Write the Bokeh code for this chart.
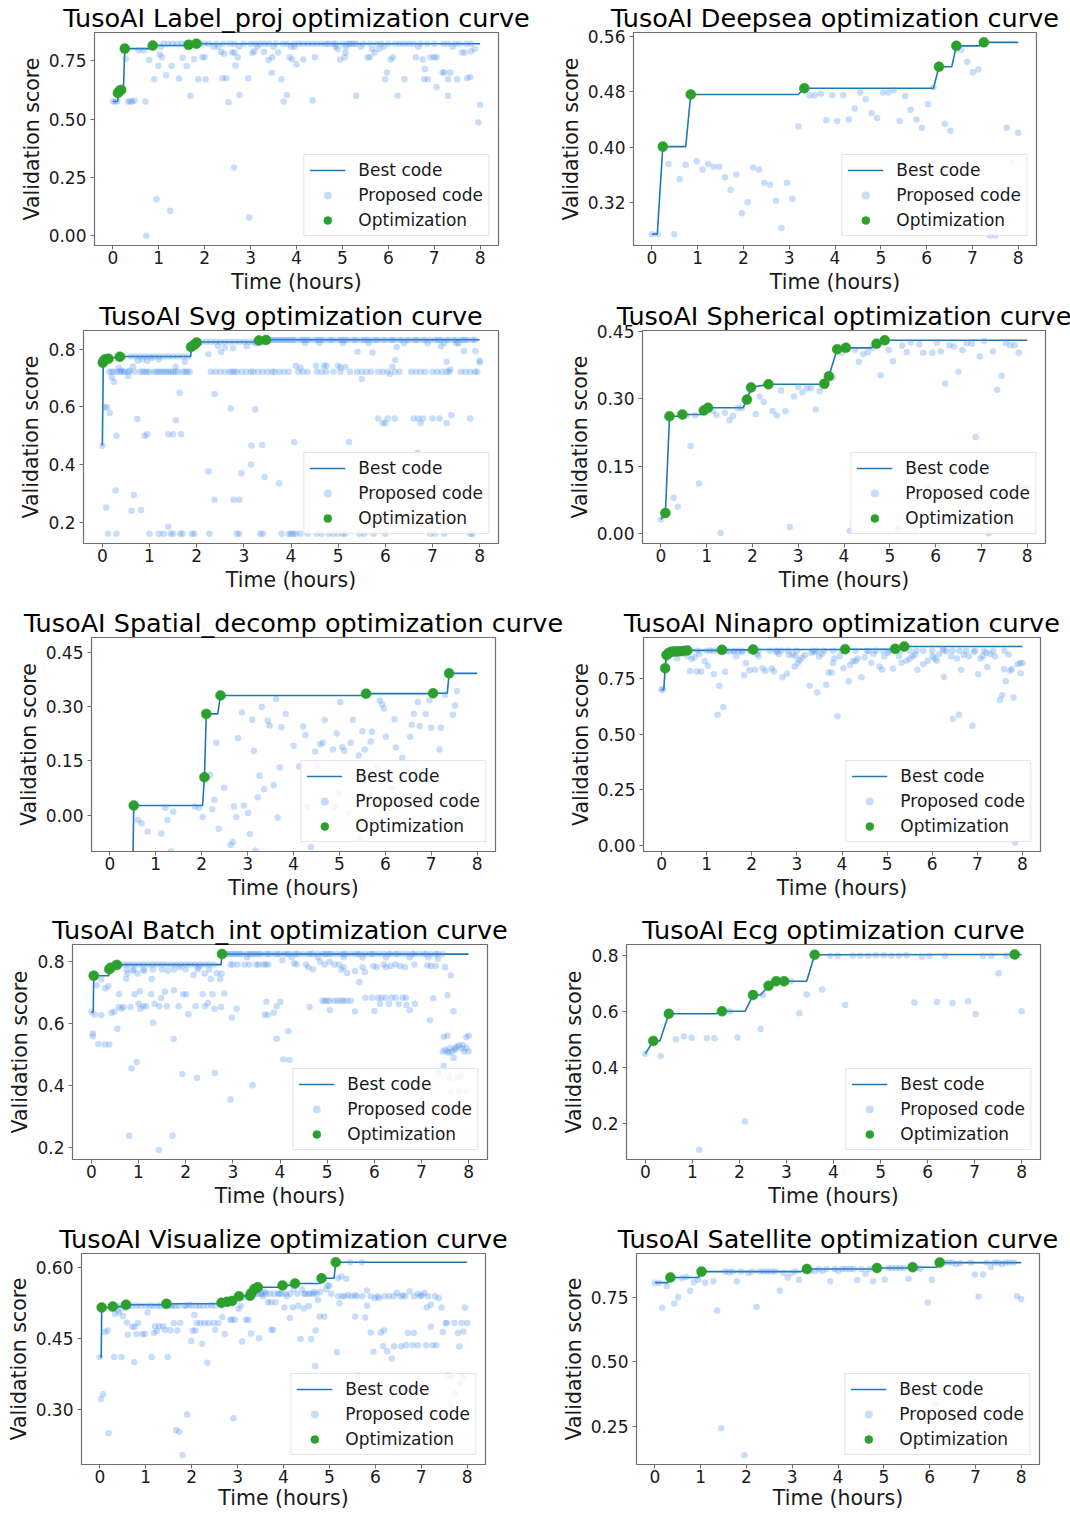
from bokeh.plotting import figure
from bokeh.layouts import row, column
from bokeh.models import Range1d, FixedTicker, PrintfTickFormatter, Legend, LegendItem
from bokeh.embed import file_html
from bokeh.resources import INLINE

FONT = "DejaVu Sans"
LINE_C = "#1f77b4"
PROP_C = "#4a8ef0"
OPT_C = "#2ca02c"
X_TICKS = [0, 1, 2, 3, 4, 5, 6, 7, 8]
X_LIM = (-0.4, 8.4)

# ---------------- Label_proj ----------------
P1_TITLE = "TusoAI Label_proj optimization curve"
P1_BEST_X = [0.0, 0.10, 0.13, 0.18, 0.23, 0.26, 0.80, 0.87, 1.60, 1.65, 1.78, 1.82, 8.0]
P1_BEST_Y = [0.575, 0.575, 0.613, 0.625, 0.625, 0.802, 0.802, 0.815, 0.815, 0.818, 0.818, 0.823, 0.823]
P1_OPT = [(0.11, 0.612), (0.14, 0.620), (0.18, 0.625), (0.26, 0.802), (0.87, 0.815), (1.65, 0.818), (1.82, 0.823)]
P1_PROP = [(0.00, 0.575), (0.05, 0.575), (0.10, 0.575), (0.33, 0.575), (0.38, 0.575), (0.42, 0.575), (0.47, 0.580), (0.71, 0.575),
           (0.28, 0.758), (0.56, 0.795), (0.67, 0.795), (0.73, 0.000), (0.79, 0.753), (0.82, 0.810), (0.90, 0.671), (0.95, 0.156),
           (0.99, 0.727), (1.02, 0.777), (1.05, 0.810), (1.07, 0.765), (1.16, 0.688), (1.25, 0.107), (1.28, 0.727), (1.44, 0.674),
           (1.52, 0.763), (1.61, 0.727), (1.69, 0.600), (1.77, 0.756), (1.86, 0.671), (1.95, 0.765), (2.00, 0.765), (2.02, 0.671),
           (2.20, 0.810), (2.30, 0.810), (2.36, 0.787), (2.39, 0.675), (2.42, 0.780), (2.47, 0.675), (2.52, 0.572), (2.60, 0.785),
           (2.64, 0.292), (2.65, 0.785), (2.67, 0.730), (2.72, 0.765), (2.75, 0.810), (2.76, 0.603), (2.95, 0.675), (2.97, 0.078),
           (3.04, 0.784), (3.08, 0.790), (3.15, 0.810), (3.29, 0.787), (3.39, 0.753), (3.46, 0.699), (3.47, 0.765), (3.50, 0.810),
           (3.60, 0.785), (3.67, 0.671), (3.72, 0.575), (3.79, 0.603), (3.85, 0.765), (3.88, 0.810), (3.90, 0.755), (3.95, 0.810),
           (4.00, 0.735), (4.15, 0.755), (4.35, 0.580), (4.40, 0.765), (4.85, 0.810), (4.90, 0.800), (4.95, 0.755), (5.05, 0.765),
           (5.08, 0.810), (5.07, 0.785), (5.30, 0.600), (5.40, 0.810), (5.55, 0.765), (5.60, 0.765), (5.65, 0.800), (5.70, 0.785),
           (5.80, 0.800), (5.90, 0.810), (5.93, 0.671), (5.97, 0.700), (6.05, 0.755), (6.10, 0.765), (6.20, 0.600), (6.35, 0.671),
           (6.60, 0.765), (6.65, 0.810), (6.75, 0.755), (6.80, 0.715), (6.78, 0.671), (6.86, 0.671), (6.92, 0.765), (7.00, 0.765),
           (7.05, 0.765), (7.05, 0.637), (7.18, 0.700), (7.22, 0.700), (7.30, 0.600), (7.30, 0.671), (7.35, 0.700), (7.40, 0.810),
           (7.50, 0.671), (7.60, 0.785), (7.66, 0.785), (7.72, 0.675), (7.78, 0.680), (7.80, 0.790), (7.88, 0.800), (7.96, 0.485),
           (8.00, 0.561),
           (1.10, 0.823), (1.20, 0.823), (1.30, 0.823), (1.40, 0.823), (1.50, 0.823), (1.60, 0.823), (1.75, 0.823), (1.90, 0.823),
           (2.00, 0.823), (2.10, 0.823), (2.25, 0.823), (2.40, 0.823), (2.55, 0.823), (2.65, 0.823), (2.85, 0.823), (3.00, 0.823),
           (3.10, 0.823), (3.20, 0.823), (3.30, 0.823), (3.40, 0.823), (3.55, 0.823), (3.70, 0.823), (3.80, 0.823), (3.95, 0.823),
           (4.05, 0.823), (4.15, 0.823), (4.25, 0.823), (4.35, 0.823), (4.45, 0.823), (4.55, 0.823), (4.65, 0.823), (4.70, 0.823),
           (4.80, 0.823), (4.85, 0.823), (5.00, 0.823), (5.10, 0.823), (5.15, 0.823), (5.20, 0.823), (5.25, 0.823), (5.30, 0.823),
           (5.45, 0.823), (5.60, 0.823), (5.75, 0.823), (5.85, 0.823), (6.00, 0.823), (6.15, 0.823), (6.25, 0.823), (6.35, 0.823),
           (6.45, 0.823), (6.55, 0.823), (6.70, 0.823), (6.85, 0.823), (7.00, 0.823), (7.20, 0.823), (7.30, 0.823), (7.45, 0.823),
           (7.55, 0.823), (7.70, 0.823), (7.80, 0.823)]
P1_YLIM = (-0.042, 0.871)
P1_YTICKS = [0.0, 0.25, 0.5, 0.75]

# ---------------- Deepsea ----------------
P2_TITLE = "TusoAI Deepsea optimization curve"
P2_BEST_X = [0.0, 0.12, 0.24, 0.74, 0.85, 3.20, 3.33, 6.15, 6.27, 6.55, 6.65, 7.15, 7.25, 8.0]
P2_BEST_Y = [0.275, 0.275, 0.401, 0.401, 0.476, 0.476, 0.485, 0.485, 0.516, 0.516, 0.546, 0.546, 0.551, 0.551]
P2_OPT = [(0.24, 0.401), (0.85, 0.476), (3.33, 0.485), (6.27, 0.516), (6.65, 0.546), (7.25, 0.551)]
P2_PROP = [(0.00, 0.275), (0.12, 0.275), (0.365, 0.376), (0.49, 0.275), (0.61, 0.354), (0.74, 0.375), (0.98, 0.380), (1.11, 0.368),
           (1.23, 0.376), (1.35, 0.372), (1.47, 0.372), (1.60, 0.357), (1.72, 0.339), (1.845, 0.361), (1.965, 0.305), (2.09, 0.321),
           (2.21, 0.371), (2.34, 0.368), (2.455, 0.349), (2.58, 0.346), (2.71, 0.323), (2.83, 0.284), (2.95, 0.349), (3.07, 0.326),
           (3.20, 0.430), (3.445, 0.475), (3.56, 0.475), (3.69, 0.477), (3.81, 0.439), (3.94, 0.475), (4.05, 0.438), (4.18, 0.475),
           (4.30, 0.440), (4.43, 0.456), (4.55, 0.479), (4.67, 0.469), (4.80, 0.449), (4.92, 0.442), (5.04, 0.479), (5.16, 0.479),
           (5.28, 0.482), (5.41, 0.438), (5.53, 0.474), (5.65, 0.454), (5.78, 0.440), (5.90, 0.428), (6.03, 0.462), (6.15, 0.486),
           (6.40, 0.434), (6.52, 0.424), (6.76, 0.540), (6.89, 0.523), (7.01, 0.508), (7.13, 0.512), (7.38, 0.273), (7.50, 0.273),
           (7.63, 0.338), (7.75, 0.428), (7.87, 0.378), (8.00, 0.421)]
P2_YLIM = (0.2587, 0.5652)
P2_YTICKS = [0.32, 0.40, 0.48, 0.56]

# ---------------- Svg ----------------
P3_TITLE = "TusoAI Svg optimization curve"
P3_BEST_X = [0.0, 0.02, 0.04, 0.07, 0.13, 0.37, 1.87, 1.90, 1.95, 2.00, 2.02, 3.30, 3.32, 3.47, 8.0]
P3_BEST_Y = [0.465, 0.757, 0.762, 0.765, 0.767, 0.775, 0.775, 0.809, 0.815, 0.822, 0.825, 0.825, 0.829, 0.833, 0.833]
P3_OPT = [(0.01, 0.753), (0.03, 0.760), (0.06, 0.765), (0.13, 0.767), (0.37, 0.774), (1.88, 0.808), (1.95, 0.816),
          (2.00, 0.823), (3.32, 0.830), (3.47, 0.832)]
P3_PROP = [(0.12, 0.16), (0.30, 0.16), (1.00, 0.16), (1.20, 0.16), (1.30, 0.16), (1.45, 0.16), (1.50, 0.16), (1.65, 0.16),
           (1.70, 0.16), (1.90, 0.16), (1.95, 0.16), (2.27, 0.16), (2.85, 0.16), (2.90, 0.16), (3.35, 0.16), (3.40, 0.16),
           (3.80, 0.16), (3.95, 0.16), (4.00, 0.16), (4.05, 0.16), (4.10, 0.16), (4.20, 0.16), (4.35, 0.16), (4.55, 0.16),
           (4.65, 0.16), (4.80, 0.16), (4.90, 0.16), (5.00, 0.16), (5.10, 0.16), (5.15, 0.16), (5.45, 0.16), (5.55, 0.16),
           (5.75, 0.16), (6.00, 0.16), (6.95, 0.16), (7.05, 0.16), (7.25, 0.16), (7.80, 0.16), (7.85, 0.16),
           (1.40, 0.184), (0.08, 0.251), (0.28, 0.310), (0.67, 0.294), (0.62, 0.240), (0.82, 0.242), (2.25, 0.376),
           (2.38, 0.278), (2.78, 0.278), (2.90, 0.278), (2.95, 0.370), (3.15, 0.400), (3.44, 0.357), (3.75, 0.335),
           (3.16, 0.466), (3.39, 0.468), (4.07, 0.477), (5.23, 0.478), (6.68, 0.441), (0.00, 0.465), (0.30, 0.500),
           (0.90, 0.500), (0.95, 0.505), (1.40, 0.505), (1.50, 0.505), (1.67, 0.505), (0.05, 0.600), (0.10, 0.598),
           (0.16, 0.579), (0.74, 0.558), (1.56, 0.554), (1.64, 0.648), (2.38, 0.645), (2.72, 0.594), (3.24, 0.591),
           (5.85, 0.560), (5.95, 0.544), (6.00, 0.544), (6.05, 0.560), (6.20, 0.560), (6.60, 0.560), (6.70, 0.560),
           (6.75, 0.544), (6.80, 0.560), (7.00, 0.560), (7.15, 0.560), (7.30, 0.544), (7.40, 0.571), (7.80, 0.560),
           (0.15, 0.722), (0.20, 0.722), (0.25, 0.722), (0.32, 0.722), (0.38, 0.722), (0.45, 0.722), (0.47, 0.722),
           (0.55, 0.722), (0.68, 0.722), (0.80, 0.722), (0.85, 0.722), (0.90, 0.722), (0.95, 0.722), (1.00, 0.722),
           (1.10, 0.722), (1.15, 0.722), (1.20, 0.722), (1.25, 0.722), (1.30, 0.722), (1.35, 0.722), (1.40, 0.722),
           (1.45, 0.722), (1.50, 0.722), (1.55, 0.722), (1.60, 0.722), (1.70, 0.722), (1.75, 0.722), (1.80, 0.722),
           (1.85, 0.722), (2.30, 0.722), (2.40, 0.722), (2.50, 0.722), (2.60, 0.722), (2.70, 0.722), (2.75, 0.722),
           (2.80, 0.722), (2.85, 0.722), (2.95, 0.722), (3.05, 0.722), (3.15, 0.722), (3.20, 0.722), (3.30, 0.722),
           (3.40, 0.722), (3.50, 0.722), (3.60, 0.722), (3.65, 0.722), (3.75, 0.722), (3.85, 0.722), (3.95, 0.722),
           (4.15, 0.722), (4.25, 0.722), (4.35, 0.722), (4.55, 0.722), (4.65, 0.722), (4.75, 0.722), (4.90, 0.722),
           (5.05, 0.722), (5.25, 0.722), (5.40, 0.722), (5.50, 0.722), (5.60, 0.722), (5.70, 0.722), (5.85, 0.722),
           (5.95, 0.722), (6.05, 0.722), (6.20, 0.722), (6.30, 0.722), (6.55, 0.722), (6.65, 0.722), (6.75, 0.722),
           (6.85, 0.722), (7.00, 0.722), (7.10, 0.722), (7.20, 0.722), (7.30, 0.722), (7.35, 0.722), (7.60, 0.722),
           (7.70, 0.722), (7.80, 0.722), (7.90, 0.722), (7.95, 0.722),
           (4.10, 0.743), (4.20, 0.737), (4.53, 0.743), (4.70, 0.743), (4.75, 0.743), (5.00, 0.743), (5.15, 0.738),
           (5.05, 0.737), (6.21, 0.763), (6.15, 0.739), (7.30, 0.757), (7.38, 0.730), (5.50, 0.697), (6.10, 0.714),
           (0.20, 0.703), (0.25, 0.686), (0.55, 0.707), (0.65, 0.740), (0.75, 0.760), (0.85, 0.765), (1.05, 0.770),
           (1.20, 0.765), (0.40, 0.725), (0.35, 0.735), (0.58, 0.725),
           (0.45, 0.775), (0.60, 0.775), (0.70, 0.775), (0.80, 0.775), (0.90, 0.775), (1.00, 0.775), (1.10, 0.775),
           (1.20, 0.775), (1.30, 0.775), (1.40, 0.775), (1.50, 0.775), (1.60, 0.775), (1.70, 0.775), (1.80, 0.775),
           (1.75, 0.757), (1.55, 0.739), (0.95, 0.760),
           (2.25, 0.783), (2.45, 0.811), (2.60, 0.806), (2.77, 0.803), (2.52, 0.790), (3.06, 0.810), (3.25, 0.820),
           (5.41, 0.791), (5.73, 0.789), (6.24, 0.808), (7.18, 0.810), (7.55, 0.820), (7.67, 0.794), (7.91, 0.793),
           (8.00, 0.760), (8.00, 0.755),
           (2.10, 0.826), (2.20, 0.826), (2.30, 0.826), (2.40, 0.826), (2.50, 0.826), (2.60, 0.826), (2.70, 0.826),
           (2.80, 0.826), (2.90, 0.826), (3.00, 0.826), (3.10, 0.826), (3.20, 0.826), (3.30, 0.826), (3.40, 0.826),
           (3.45, 0.826),
           (3.55, 0.832), (3.60, 0.832), (3.65, 0.832), (3.70, 0.832), (3.75, 0.832), (3.80, 0.832), (3.85, 0.832),
           (3.90, 0.832), (3.95, 0.832), (4.00, 0.832), (4.05, 0.832), (4.10, 0.832), (4.20, 0.832), (4.25, 0.832),
           (4.30, 0.832), (4.35, 0.832), (4.40, 0.832), (4.50, 0.832), (4.55, 0.832), (4.60, 0.832), (4.65, 0.832),
           (4.70, 0.832), (4.80, 0.832), (4.85, 0.832), (4.90, 0.832), (5.00, 0.832), (5.05, 0.832), (5.10, 0.832),
           (5.15, 0.832), (5.20, 0.832), (5.30, 0.832), (5.35, 0.832), (5.40, 0.832), (5.50, 0.832), (5.55, 0.832),
           (5.60, 0.832), (5.65, 0.832), (5.75, 0.832), (5.80, 0.832), (5.85, 0.832), (5.95, 0.832), (6.00, 0.832),
           (6.10, 0.832), (6.15, 0.832), (6.20, 0.832), (6.30, 0.832), (6.35, 0.832), (6.45, 0.832), (6.50, 0.832),
           (6.60, 0.832), (6.65, 0.832), (6.70, 0.832), (6.80, 0.832), (6.85, 0.832), (6.95, 0.832), (7.05, 0.832),
           (7.10, 0.832), (7.15, 0.832), (7.20, 0.832), (7.30, 0.832), (7.35, 0.832), (7.45, 0.832), (7.50, 0.832),
           (7.60, 0.832), (7.65, 0.832), (7.70, 0.832), (7.75, 0.832), (7.85, 0.832), (7.90, 0.832),
           (4.30, 0.822), (4.60, 0.822), (5.10, 0.822), (5.65, 0.822), (6.40, 0.822), (6.90, 0.822), (7.25, 0.822),
           (7.50, 0.822)]
P3_YLIM = (0.126, 0.865)
P3_YTICKS = [0.2, 0.4, 0.6, 0.8]

# ---------------- Spherical ----------------
P4_TITLE = "TusoAI Spherical optimization curve"
P4_BEST_X = [0.0, 0.10, 0.19, 0.40, 0.47, 0.90, 0.94, 1.03, 1.80, 1.88, 1.97, 2.35, 3.55, 3.57, 3.67, 3.85,
             4.04, 4.60, 4.71, 4.89, 8.0]
P4_BEST_Y = [0.032, 0.046, 0.261, 0.261, 0.265, 0.265, 0.274, 0.280, 0.280, 0.298, 0.325, 0.332, 0.332, 0.333,
             0.350, 0.410, 0.413, 0.413, 0.422, 0.430, 0.430]
P4_OPT = [(0.10, 0.046), (0.19, 0.261), (0.47, 0.265), (0.94, 0.274), (1.03, 0.280), (1.88, 0.298), (1.97, 0.325),
          (2.35, 0.332), (3.57, 0.333), (3.67, 0.350), (3.85, 0.410), (4.04, 0.413), (4.71, 0.422), (4.89, 0.430)]
P4_PROP = [(0.00, 0.032), (0.28, 0.080), (0.37, 0.060), (0.65, 0.195), (0.835, 0.112), (0.75, 0.263), (0.56, 0.262),
           (1.13, 0.273), (1.215, 0.264), (1.305, 0.002), (1.40, 0.269), (1.50, 0.252), (1.58, 0.262), (1.68, 0.279),
           (1.77, 0.280), (2.07, 0.266), (2.155, 0.305), (2.245, 0.293), (2.44, 0.273), (2.535, 0.263), (2.625, 0.318),
           (2.72, 0.272), (2.82, 0.015), (2.91, 0.305), (3.00, 0.326), (3.09, 0.314), (3.19, 0.323), (3.28, 0.323),
           (3.38, 0.276), (3.47, 0.317), (3.76, 0.346), (3.95, 0.402), (4.13, 0.006), (4.24, 0.408), (4.325, 0.382),
           (4.42, 0.399), (4.52, 0.403), (4.62, 0.413), (4.80, 0.352), (4.98, 0.408), (5.07, 0.383), (5.175, 0.012),
           (5.27, 0.418), (5.37, 0.404), (5.46, 0.425), (5.555, 0.006), (5.645, 0.421), (5.73, 0.402), (5.83, 0.101),
           (5.93, 0.402), (6.025, 0.425), (6.115, 0.405), (6.21, 0.334), (6.30, 0.419), (6.40, 0.416), (6.50, 0.360),
           (6.585, 0.408), (6.68, 0.423), (6.79, 0.422), (6.875, 0.215), (6.965, 0.394), (7.06, 0.428), (7.16, 0.001),
           (7.25, 0.405), (7.345, 0.320), (7.44, 0.351), (7.53, 0.424), (7.63, 0.419), (7.73, 0.419), (7.815, 0.402),
           (7.91, 0.102), (8.00, 0.102)]
P4_YLIM = (-0.0215, 0.4515)
P4_YTICKS = [0.0, 0.15, 0.30, 0.45]

# ---------------- Spatial_decomp ----------------
P5_TITLE = "TusoAI Spatial_decomp optimization curve"
P5_BEST_X = [0.50, 0.52, 2.02, 2.06, 2.10, 2.35, 2.41, 5.55, 5.58, 7.00, 7.04, 7.35, 7.39, 8.0]
P5_BEST_Y = [-0.15, 0.027, 0.027, 0.105, 0.280, 0.280, 0.331, 0.331, 0.336, 0.336, 0.337, 0.337, 0.392, 0.392]
P5_OPT = [(0.52, 0.027), (2.06, 0.105), (2.10, 0.280), (2.41, 0.331), (5.58, 0.336), (7.04, 0.337), (7.39, 0.392)]
P5_PROP = [(0.61, -0.013), (0.69, -0.022), (0.825, -0.045), (1.12, -0.050), (1.21, 0.021), (1.255, -0.013), (1.33, -0.100),
           (1.38, 0.010), (1.85, 0.024), (1.94, 0.021), (2.02, -0.005), (2.19, 0.111), (2.23, 0.017), (2.28, 0.043),
           (2.32, 0.200), (2.37, -0.037), (2.49, 0.076), (2.63, -0.082), (2.68, -0.074), (2.70, 0.024), (2.75, -0.005),
           (2.88, 0.284), (2.92, 0.027), (2.79, 0.213), (3.01, 0.006), (3.05, -0.052), (3.10, 0.264), (3.135, 0.178),
           (3.17, -0.097), (3.22, 0.050), (3.26, 0.109), (3.31, 0.300), (3.36, 0.072), (3.44, 0.261), (3.48, 0.248),
           (3.57, 0.083), (3.62, 0.321), (3.655, -0.006), (3.70, 0.132), (3.74, 0.243), (3.83, 0.280), (4.00, 0.192),
           (4.12, 0.135), (4.21, 0.245), (4.26, 0.222), (4.30, 0.023), (4.38, -0.088), (4.52, 0.137), (4.47, 0.176),
           (4.58, 0.196), (4.64, 0.200), (4.68, 0.263), (4.67, 0.034), (4.86, 0.182), (4.94, 0.226), (4.985, 0.060),
           (4.90, 0.022), (5.02, 0.312), (5.06, 0.188), (5.11, 0.178), (5.20, 0.006), (5.245, 0.200), (5.29, 0.264),
           (5.42, 0.165), (5.45, -0.063), (5.50, 0.232), (5.55, 0.182), (5.68, 0.204), (5.71, 0.231), (5.81, 0.134),
           (5.88, 0.317), (5.93, 0.307), (5.97, 0.295), (6.01, 0.217), (6.14, 0.076), (6.20, 0.265), (6.23, 0.187),
           (6.37, 0.159), (6.46, 0.127), (6.54, 0.217), (6.575, 0.250), (6.62, 0.280), (6.66, 0.126), (6.71, 0.313),
           (6.75, 0.246), (6.88, 0.280), (6.96, 0.318), (7.00, 0.242), (7.18, 0.182), (7.21, 0.242), (7.30, 0.333),
           (7.47, 0.278), (7.52, 0.303), (7.56, 0.343), (7.69, 0.063), (7.42, -0.017)]
P5_YLIM = (-0.1, 0.491)
P5_YTICKS = [0.0, 0.15, 0.30, 0.45]

# ---------------- Ninapro ----------------
P6_TITLE = "TusoAI Ninapro optimization curve"
P6_BEST_X = [0.0, 0.05, 0.08, 0.11, 0.15, 0.19, 0.25, 0.32, 0.40, 0.48, 0.57, 1.30, 1.34, 2.00, 2.03, 4.05, 4.07,
             5.15, 5.18, 5.35, 5.38, 8.0]
P6_BEST_Y = [0.700, 0.700, 0.796, 0.855, 0.863, 0.868, 0.871, 0.871, 0.872, 0.873, 0.876, 0.876, 0.8785, 0.8785,
             0.880, 0.880, 0.8815, 0.8815, 0.883, 0.883, 0.8935, 0.8935]
P6_OPT = [(0.08, 0.796), (0.11, 0.855), (0.15, 0.863), (0.19, 0.868), (0.25, 0.871), (0.32, 0.871), (0.40, 0.872),
          (0.48, 0.873), (0.57, 0.876), (1.34, 0.8785), (2.03, 0.880), (4.07, 0.8815), (5.18, 0.883), (5.38, 0.8935)]
P6_PROP = [(0.00, 0.700), (0.03, 0.700), (0.34, 0.840), (0.58, 0.849), (0.63, 0.784), (0.67, 0.837), (0.73, 0.845),
           (0.78, 0.781), (0.835, 0.860), (0.88, 0.781), (0.955, 0.829), (1.03, 0.807), (1.08, 0.876), (1.16, 0.769),
           (1.24, 0.587), (1.28, 0.717), (1.37, 0.622), (1.41, 0.780), (1.50, 0.871), (1.60, 0.871), (1.66, 0.850),
           (1.77, 0.868), (1.83, 0.765), (1.87, 0.819), (1.95, 0.787), (2.07, 0.789), (2.11, 0.860), (2.15, 0.850),
           (2.24, 0.796), (2.30, 0.784), (2.44, 0.795), (2.49, 0.781), (2.54, 0.870), (2.60, 0.860), (2.68, 0.755),
           (2.78, 0.772), (2.83, 0.855), (2.91, 0.860), (2.97, 0.850), (2.95, 0.804), (3.02, 0.819), (3.06, 0.832),
           (3.12, 0.844), (3.18, 0.855), (3.28, 0.717), (3.32, 0.865), (3.40, 0.870), (3.45, 0.687), (3.49, 0.849),
           (3.56, 0.860), (3.65, 0.722), (3.70, 0.777), (3.77, 0.777), (3.80, 0.819), (3.83, 0.840), (3.90, 0.580),
           (3.95, 0.850), (4.03, 0.796), (4.15, 0.737), (4.18, 0.810), (4.24, 0.829), (4.30, 0.827), (4.35, 0.840),
           (4.43, 0.755), (4.50, 0.845), (4.59, 0.872), (4.65, 0.821), (4.70, 0.860), (4.83, 0.804), (4.89, 0.790),
           (4.94, 0.850), (5.02, 0.866), (5.13, 0.795), (5.26, 0.850), (5.32, 0.821), (5.43, 0.830), (5.50, 0.839),
           (5.56, 0.850), (5.62, 0.857), (5.67, 0.789), (5.80, 0.814), (5.90, 0.830), (6.01, 0.850), (6.05, 0.840),
           (6.10, 0.830), (6.15, 0.858), (6.23, 0.882), (6.26, 0.758), (6.32, 0.872), (6.42, 0.850), (6.46, 0.569),
           (6.55, 0.840), (6.59, 0.587), (6.64, 0.789), (6.70, 0.855), (6.81, 0.850), (6.89, 0.538), (6.92, 0.870),
           (7.02, 0.769), (7.07, 0.840), (7.12, 0.850), (7.20, 0.866), (7.22, 0.802), (7.29, 0.860), (7.39, 0.850),
           (7.50, 0.653), (7.55, 0.675), (7.59, 0.791), (7.63, 0.737), (7.69, 0.858), (7.73, 0.785), (7.76, 0.793),
           (7.80, 0.665), (7.89, 0.814), (7.95, 0.820), (8.00, 0.820), (7.96, 0.773), (7.84, 0.013),
           (0.60, 0.875), (0.80, 0.875), (1.00, 0.875), (1.15, 0.875), (1.25, 0.875), (1.45, 0.875), (1.60, 0.875),
           (1.70, 0.875), (1.80, 0.875), (1.95, 0.875), (2.15, 0.875), (2.40, 0.875), (2.55, 0.875), (2.65, 0.875),
           (2.80, 0.875), (3.00, 0.875), (3.35, 0.875), (3.45, 0.875), (3.60, 0.875), (3.80, 0.875), (4.00, 0.875),
           (4.30, 0.875), (4.55, 0.875), (4.75, 0.875), (4.90, 0.875), (5.05, 0.875), (5.30, 0.875), (5.50, 0.875),
           (5.65, 0.875), (5.80, 0.875), (6.00, 0.875), (6.25, 0.875), (6.45, 0.875), (6.60, 0.875), (6.75, 0.875),
           (6.95, 0.875), (7.15, 0.875), (7.35, 0.875), (7.60, 0.875)]
P6_YLIM = (-0.027, 0.934)
P6_YTICKS = [0.0, 0.25, 0.5, 0.75]

# ---------------- Batch_int ----------------
P7_TITLE = "TusoAI Batch_int optimization curve"
P7_BEST_X = [0.0, 0.04, 0.05, 0.37, 0.38, 0.41, 0.52, 0.53, 2.75, 2.77, 8.0]
P7_BEST_Y = [0.638, 0.638, 0.755, 0.755, 0.776, 0.781, 0.789, 0.791, 0.791, 0.825, 0.825]
P7_OPT = [(0.05, 0.755), (0.38, 0.776), (0.41, 0.781), (0.54, 0.790), (2.77, 0.825)]
P7_PROP = [(0.00, 0.638), (0.03, 0.559), (0.03, 0.568), (0.07, 0.629), (0.15, 0.534), (0.11, 0.724), (0.21, 0.743),
           (0.21, 0.627), (0.29, 0.714), (0.29, 0.532), (0.38, 0.532), (0.36, 0.721), (0.43, 0.635), (0.49, 0.638),
           (0.55, 0.583), (0.59, 0.695), (0.58, 0.654), (0.64, 0.648), (0.68, 0.654), (0.74, 0.745), (0.76, 0.762),
           (0.83, 0.654), (0.80, 0.237), (0.85, 0.455), (0.88, 0.771), (0.92, 0.695), (0.98, 0.762), (0.96, 0.476),
           (1.03, 0.705), (1.00, 0.664), (1.04, 0.648), (1.10, 0.656), (1.12, 0.771), (1.16, 0.656), (1.28, 0.744),
           (1.31, 0.603), (1.34, 0.664), (1.27, 0.695), (1.43, 0.191), (1.44, 0.656), (1.48, 0.683), (1.56, 0.703),
           (1.60, 0.656), (1.62, 0.771), (1.745, 0.550), (1.72, 0.237), (1.75, 0.708), (1.85, 0.656), (1.875, 0.782),
           (1.93, 0.437), (1.95, 0.695), (2.01, 0.695), (2.06, 0.630), (2.165, 0.757), (2.21, 0.656), (2.24, 0.425),
           (2.28, 0.782), (2.40, 0.762), (2.36, 0.695), (2.41, 0.656), (2.47, 0.667), (2.53, 0.744), (2.57, 0.695),
           (2.61, 0.648), (2.62, 0.440), (2.66, 0.764), (2.73, 0.744), (2.75, 0.654), (2.76, 0.762), (2.82, 0.697),
           (2.98, 0.620), (2.95, 0.354), (3.08, 0.648),
           (3.42, 0.400), (3.68, 0.629), (3.74, 0.627), (3.71, 0.671), (3.87, 0.635), (3.93, 0.551), (3.93, 0.656),
           (4.01, 0.671), (4.07, 0.484), (4.20, 0.482), (4.18, 0.575), (4.63, 0.654),
           (4.90, 0.674), (4.95, 0.674), (5.00, 0.674), (5.05, 0.674), (5.15, 0.674), (5.22, 0.674), (5.30, 0.674),
           (5.35, 0.674), (5.42, 0.674), (5.50, 0.674), (5.06, 0.643), (5.59, 0.639),
           (5.81, 0.684), (5.95, 0.684), (6.08, 0.684), (6.15, 0.684), (6.24, 0.684), (6.37, 0.684), (6.45, 0.684),
           (6.60, 0.684), (6.67, 0.684), (6.00, 0.641), (6.12, 0.664), (6.31, 0.664), (6.52, 0.663), (6.68, 0.660),
           (6.75, 0.643), (6.86, 0.664), (7.25, 0.682), (7.18, 0.611), (7.55, 0.692), (7.62, 0.756), (7.68, 0.640),
           (7.47, 0.557), (7.55, 0.561), (7.47, 0.463), (7.68, 0.489),
           (7.45, 0.510), (7.50, 0.515), (7.55, 0.510), (7.60, 0.520), (7.65, 0.510), (7.70, 0.520), (7.75, 0.525),
           (7.80, 0.530), (7.85, 0.520), (7.90, 0.510), (7.95, 0.520), (8.00, 0.510), (7.95, 0.556), (8.00, 0.561),
           (7.88, 0.530), (7.72, 0.515), (7.58, 0.505),
           (7.36, 0.442), (7.60, 0.424), (7.62, 0.378), (7.75, 0.424), (7.80, 0.380), (7.85, 0.430), (7.95, 0.380),
           (0.70, 0.791), (0.80, 0.791), (0.90, 0.791), (1.00, 0.791), (1.10, 0.791), (1.20, 0.791), (1.30, 0.791),
           (1.40, 0.791), (1.50, 0.791), (1.60, 0.791), (1.70, 0.791), (1.80, 0.791), (1.90, 0.791), (2.00, 0.791),
           (2.10, 0.791), (2.20, 0.791), (2.30, 0.791), (2.40, 0.791), (2.50, 0.791), (2.60, 0.791),
           (0.75, 0.775), (0.90, 0.775), (1.10, 0.775), (1.30, 0.775), (1.50, 0.775), (1.75, 0.775), (2.00, 0.775),
           (2.25, 0.775), (2.50, 0.775),
           (2.95, 0.791), (3.00, 0.791), (3.10, 0.791), (3.25, 0.791), (3.35, 0.791), (3.50, 0.791), (3.55, 0.791),
           (3.65, 0.791), (3.70, 0.791), (3.75, 0.791), (4.05, 0.805), (4.30, 0.795), (4.35, 0.791), (4.55, 0.791),
           (4.60, 0.782), (4.70, 0.775), (4.85, 0.800), (4.95, 0.791), (5.05, 0.800), (5.15, 0.791), (5.25, 0.791),
           (5.30, 0.775), (5.35, 0.782), (5.42, 0.764), (5.59, 0.770), (5.68, 0.735), (5.75, 0.782), (5.80, 0.767),
           (5.98, 0.786), (6.05, 0.782), (6.20, 0.791), (6.25, 0.782), (6.35, 0.786), (6.45, 0.791), (6.55, 0.786),
           (6.65, 0.782), (6.85, 0.791), (7.125, 0.788), (7.20, 0.786), (7.30, 0.786), (7.35, 0.810), (7.50, 0.782),
           (2.85, 0.825), (2.90, 0.825), (2.95, 0.825), (3.00, 0.825), (3.05, 0.825), (3.10, 0.825), (3.15, 0.825),
           (3.20, 0.825), (3.30, 0.825), (3.35, 0.825), (3.40, 0.825), (3.45, 0.825), (3.50, 0.825), (3.55, 0.825),
           (3.60, 0.825), (3.70, 0.825), (3.75, 0.825), (3.80, 0.825), (3.90, 0.825), (3.95, 0.825), (4.00, 0.825),
           (4.10, 0.825), (4.15, 0.825), (4.20, 0.825), (4.30, 0.825), (4.35, 0.825), (4.40, 0.825), (4.50, 0.825),
           (4.60, 0.825), (4.65, 0.825), (4.70, 0.825), (4.80, 0.825), (4.90, 0.825), (4.95, 0.825), (5.00, 0.825),
           (5.05, 0.825), (5.10, 0.825), (5.20, 0.825), (5.30, 0.825), (5.35, 0.825), (5.40, 0.825), (5.50, 0.825),
           (5.60, 0.825), (5.65, 0.825), (5.70, 0.825), (5.80, 0.825), (5.90, 0.825), (5.95, 0.825), (6.00, 0.825),
           (6.10, 0.825), (6.20, 0.825), (6.30, 0.825), (6.35, 0.825), (6.45, 0.825), (6.50, 0.825), (6.60, 0.825),
           (6.70, 0.825), (6.80, 0.825), (6.85, 0.825), (6.95, 0.825), (7.05, 0.825), (7.10, 0.825), (7.20, 0.825),
           (7.30, 0.825), (7.35, 0.825), (7.45, 0.825),
           (3.30, 0.815), (4.25, 0.815), (4.80, 0.815), (5.35, 0.815), (5.75, 0.815), (6.25, 0.815), (6.75, 0.815),
           (7.15, 0.815)]
P7_YLIM = (0.16, 0.856)
P7_YTICKS = [0.2, 0.4, 0.6, 0.8]

# ---------------- Ecg ----------------
P8_TITLE = "TusoAI Ecg optimization curve"
P8_BEST_X = [0.0, 0.17, 0.31, 0.50, 1.50, 1.63, 2.12, 2.29, 2.45, 2.62, 2.78, 2.95, 3.43, 3.60, 7.85, 8.0]
P8_BEST_Y = [0.450, 0.496, 0.496, 0.593, 0.593, 0.602, 0.602, 0.660, 0.660, 0.693, 0.709, 0.709, 0.709, 0.804,
             0.805, 0.805]
P8_OPT = [(0.17, 0.496), (0.50, 0.593), (1.63, 0.602), (2.29, 0.660), (2.62, 0.693), (2.78, 0.709), (2.95, 0.709),
          (3.60, 0.804), (7.85, 0.805)]
P8_PROP = [(0.00, 0.450), (0.33, 0.442), (0.65, 0.502), (0.82, 0.512), (0.985, 0.507), (1.145, 0.107), (1.31, 0.506),
           (1.47, 0.506), (1.80, 0.601), (1.96, 0.508), (2.12, 0.208), (2.45, 0.539), (2.50, 0.660), (3.10, 0.710),
           (3.275, 0.595), (3.43, 0.662), (3.76, 0.680), (3.93, 0.800), (4.09, 0.800), (4.25, 0.624), (4.41, 0.800),
           (4.57, 0.800), (4.74, 0.800), (4.90, 0.802), (5.07, 0.802), (5.23, 0.800), (5.39, 0.800), (5.55, 0.802),
           (5.72, 0.633), (5.88, 0.797), (6.04, 0.800), (6.20, 0.635), (6.37, 0.800), (6.53, 0.632), (6.70, 0.319),
           (6.86, 0.638), (7.02, 0.592), (7.18, 0.800), (7.35, 0.800), (7.51, 0.738), (7.67, 0.800), (8.00, 0.602)]
P8_YLIM = (0.0726, 0.8405)
P8_YTICKS = [0.2, 0.4, 0.6, 0.8]

# ---------------- Visualize ----------------
P9_TITLE = "TusoAI Visualize optimization curve"
P9_BEST_X = [0.0, 0.03, 0.04, 0.25, 0.28, 0.55, 0.57, 1.40, 1.45, 2.60, 2.65, 2.77, 2.88, 3.03, 3.27, 3.30, 3.37,
             3.44, 3.95, 3.98, 4.20, 4.25, 4.80, 4.83, 5.10, 5.14, 8.0]
P9_BEST_Y = [0.411, 0.411, 0.516, 0.516, 0.518, 0.518, 0.522, 0.522, 0.524, 0.524, 0.526, 0.528, 0.530, 0.540,
             0.541, 0.547, 0.556, 0.559, 0.559, 0.563, 0.563, 0.567, 0.567, 0.578, 0.578, 0.612, 0.612]
P9_OPT = [(0.04, 0.516), (0.28, 0.518), (0.57, 0.522), (1.45, 0.524), (2.65, 0.526), (2.77, 0.528), (2.88, 0.530),
          (3.03, 0.540), (3.27, 0.541), (3.30, 0.547), (3.37, 0.556), (3.44, 0.559), (3.98, 0.563), (4.25, 0.567),
          (4.83, 0.578), (5.14, 0.612)]
P9_PROP = [(0.00, 0.411), (0.02, 0.322), (0.07, 0.332), (0.11, 0.464), (0.17, 0.467), (0.19, 0.249), (0.24, 0.517),
           (0.33, 0.502), (0.31, 0.411), (0.39, 0.511), (0.42, 0.506), (0.47, 0.411), (0.50, 0.498), (0.54, 0.515),
           (0.59, 0.484), (0.61, 0.458), (0.71, 0.475), (0.75, 0.400), (0.76, 0.475), (0.80, 0.460), (0.83, 0.483),
           (0.89, 0.520), (0.93, 0.460), (0.98, 0.460), (1.04, 0.506), (1.09, 0.520), (1.13, 0.411), (1.18, 0.462),
           (1.20, 0.476), (1.24, 0.466), (1.29, 0.476), (1.32, 0.520), (1.38, 0.476), (1.42, 0.469), (1.48, 0.411),
           (1.54, 0.468), (1.58, 0.520), (1.61, 0.483), (1.66, 0.256), (1.69, 0.467), (1.73, 0.252), (1.75, 0.483),
           (1.80, 0.203), (1.90, 0.289), (1.88, 0.520), (1.95, 0.522), (1.99, 0.445), (2.06, 0.500), (2.02, 0.467),
           (2.08, 0.467), (2.11, 0.483), (2.17, 0.520), (2.19, 0.483), (2.23, 0.439), (2.28, 0.483), (2.34, 0.399),
           (2.37, 0.483), (2.43, 0.522), (2.48, 0.483), (2.51, 0.469), (2.58, 0.483), (2.62, 0.522), (2.67, 0.496),
           (2.72, 0.460), (2.84, 0.490), (2.88, 0.490), (2.91, 0.281), (2.94, 0.490), (3.02, 0.513), (3.07, 0.520),
           (3.10, 0.444), (3.12, 0.537), (3.18, 0.490), (3.23, 0.490), (3.29, 0.461), (3.47, 0.451), (3.33, 0.540),
           (3.40, 0.545), (3.51, 0.545), (3.55, 0.540), (3.59, 0.550), (3.62, 0.545), (3.66, 0.527), (3.73, 0.527),
           (3.735, 0.469), (3.77, 0.469), (3.83, 0.527), (3.88, 0.545), (3.92, 0.546), (4.02, 0.516), (4.07, 0.540),
           (4.14, 0.494), (4.20, 0.516), (4.22, 0.555), (4.32, 0.520), (4.37, 0.449), (4.40, 0.555), (4.44, 0.514),
           (4.48, 0.545), (4.55, 0.519), (4.59, 0.546), (4.60, 0.449), (4.67, 0.549), (4.70, 0.467), (4.75, 0.532),
           (4.80, 0.549), (4.79, 0.497), (4.89, 0.497), (4.93, 0.555), (4.96, 0.563), (5.04, 0.545), (5.00, 0.562),
           (4.69, 0.392), (5.16, 0.421), (5.19, 0.578), (5.26, 0.582), (5.37, 0.577), (5.45, 0.612), (5.71, 0.612),
           (5.19, 0.540), (5.22, 0.525), (5.33, 0.540), (5.41, 0.542), (5.56, 0.542), (5.56, 0.497), (5.62, 0.372),
           (5.67, 0.348), (5.78, 0.495), (5.72, 0.540), (5.82, 0.552), (5.82, 0.520), (5.90, 0.463), (5.99, 0.536),
           (5.96, 0.422), (6.08, 0.536), (6.00, 0.348), (6.12, 0.463), (6.19, 0.467), (6.17, 0.434), (6.26, 0.423),
           (6.36, 0.408), (6.41, 0.434), (6.47, 0.547), (6.60, 0.542), (6.56, 0.434), (6.67, 0.436), (6.75, 0.550),
           (6.71, 0.462), (6.81, 0.436), (6.84, 0.462), (6.93, 0.436), (6.93, 0.545), (7.01, 0.542), (7.11, 0.436),
           (7.07, 0.547), (7.12, 0.516), (7.25, 0.436), (7.21, 0.522), (7.21, 0.475), (7.33, 0.436), (7.38, 0.536),
           (7.47, 0.464), (7.44, 0.516), (7.53, 0.483), (7.56, 0.483), (7.58, 0.372), (7.67, 0.369), (7.66, 0.308),
           (7.72, 0.483), (7.74, 0.333), (7.80, 0.462), (7.83, 0.433), (7.88, 0.483), (7.90, 0.369), (7.92, 0.465),
           (7.95, 0.516), (8.00, 0.483), (7.85, 0.355),
           (0.35, 0.520), (0.45, 0.520), (0.62, 0.520), (0.70, 0.520), (0.80, 0.520), (1.00, 0.520), (1.15, 0.520),
           (1.25, 0.520), (1.40, 0.520), (1.55, 0.520), (1.65, 0.520), (1.72, 0.520), (1.85, 0.520), (2.00, 0.520),
           (2.10, 0.520), (2.25, 0.520), (2.35, 0.520), (2.50, 0.520),
           (3.45, 0.545), (3.55, 0.545), (3.70, 0.545), (3.80, 0.545), (3.95, 0.545), (4.05, 0.545), (4.15, 0.545),
           (4.30, 0.545), (4.45, 0.545), (4.55, 0.545), (4.65, 0.545), (4.72, 0.545),
           (5.28, 0.540), (5.48, 0.540), (5.60, 0.540), (5.90, 0.540), (6.05, 0.540), (6.20, 0.540), (6.30, 0.540),
           (6.40, 0.540), (6.55, 0.540), (6.65, 0.540), (6.85, 0.540), (6.98, 0.540), (7.15, 0.540), (7.30, 0.540)]
P9_YLIM = (0.1827, 0.6307)
P9_YTICKS = [0.30, 0.45, 0.60]

# ---------------- Satellite ----------------
P10_TITLE = "TusoAI Satellite optimization curve"
P10_BEST_X = [0.0, 0.28, 0.34, 0.95, 1.02, 3.20, 3.32, 4.80, 4.85, 5.55, 5.63, 6.15, 6.22, 8.0]
P10_BEST_Y = [0.808, 0.808, 0.828, 0.828, 0.851, 0.851, 0.861, 0.861, 0.865, 0.865, 0.868, 0.868, 0.886, 0.886]
P10_OPT = [(0.34, 0.828), (1.02, 0.851), (3.32, 0.861), (4.85, 0.865), (5.63, 0.868), (6.22, 0.886)]
P10_PROP = [(0.00, 0.808), (0.09, 0.808), (0.16, 0.710), (0.26, 0.794), (0.425, 0.727), (0.51, 0.751), (0.59, 0.825),
            (0.685, 0.830), (0.77, 0.776), (0.85, 0.810), (0.95, 0.819), (1.10, 0.808), (1.28, 0.813), (1.36, 0.700),
            (1.45, 0.241), (1.54, 0.851), (1.62, 0.848), (1.70, 0.851), (1.79, 0.813), (1.88, 0.851), (1.96, 0.136),
            (2.04, 0.846), (2.12, 0.851), (2.22, 0.713), (2.29, 0.851), (2.38, 0.851), (2.46, 0.851), (2.55, 0.851),
            (2.63, 0.851), (2.73, 0.776), (2.81, 0.846), (2.90, 0.828), (2.98, 0.846), (3.07, 0.851), (3.15, 0.819),
            (3.40, 0.853), (3.50, 0.853), (3.58, 0.861), (3.66, 0.853), (3.75, 0.861), (3.83, 0.813), (3.93, 0.861),
            (4.00, 0.853), (4.09, 0.861), (4.17, 0.861), (4.26, 0.861), (4.34, 0.861), (4.42, 0.818), (4.51, 0.861),
            (4.60, 0.843), (4.68, 0.861), (4.77, 0.813), (5.02, 0.819), (5.10, 0.865), (5.18, 0.865), (5.27, 0.865),
            (5.35, 0.865), (5.44, 0.865), (5.54, 0.823), (5.71, 0.865), (5.80, 0.862), (5.96, 0.731), (6.05, 0.819),
            (6.33, 0.886), (6.42, 0.886), (6.50, 0.886), (6.58, 0.881), (6.67, 0.883), (6.90, 0.886), (6.99, 0.840),
            (7.07, 0.754), (7.17, 0.840), (7.24, 0.886), (7.34, 0.869), (7.42, 0.886), (7.50, 0.886), (7.58, 0.881),
            (7.66, 0.886), (7.75, 0.886), (7.84, 0.886), (7.91, 0.755), (8.00, 0.744), (6.12, 0.337), (6.81, 0.406)]
P10_YLIM = (0.1004, 0.9214)
P10_YTICKS = [0.25, 0.50, 0.75]


def make_panel(title, best_x, best_y, prop, opt, ylim, yticks, yfmt, geom, xlabel_gap=3):
    w, h, bl, br, bt, bb = geom
    p = figure(width=w, height=h, x_range=Range1d(*X_LIM), y_range=Range1d(*ylim),
               title=title, output_backend="svg", toolbar_location=None,
               min_border_left=bl, min_border_right=br, min_border_top=bt, min_border_bottom=bb)
    p.title.text_font = FONT
    p.title.text_font_size = "25.5px"
    p.title.text_font_style = "normal"
    p.title.text_color = "black"
    p.title.align = "center"
    p.title.standoff = 0
    p.grid.visible = False
    p.outline_line_color = "#6e6e6e"
    p.outline_line_width = 1.2
    p.background_fill_color = "white"
    p.border_fill_color = "white"

    px = [a for a, b in prop]
    py = [b for a, b in prop]
    ox = [a for a, b in opt]
    oy = [b for a, b in opt]

    r_line = p.line(best_x, best_y, line_color=LINE_C, line_width=1.6)
    r_prop = p.scatter(px, py, size=6.5, fill_color=PROP_C, fill_alpha=0.3, line_color=None)
    r_opt = p.scatter(ox, oy, size=10, fill_color=OPT_C, line_color=OPT_C, line_width=0.5)

    p.xaxis.ticker = FixedTicker(ticks=X_TICKS)
    p.yaxis.ticker = FixedTicker(ticks=yticks)
    p.yaxis.formatter = PrintfTickFormatter(format=yfmt)
    p.xaxis.axis_label = "Time (hours)"
    p.yaxis.axis_label = "Validation score"
    for ax in (p.xaxis[0], p.yaxis[0]):
        ax.axis_line_color = None
        ax.major_tick_line_color = "#6e6e6e"
        ax.major_tick_line_width = 1
        ax.major_tick_in = 0
        ax.major_tick_out = 4
        ax.minor_tick_line_color = None
        ax.major_label_text_font = FONT
        ax.major_label_text_font_size = "17px"
        ax.major_label_text_color = "#1a1a1a"
        ax.axis_label_text_font = FONT
        ax.axis_label_text_font_size = "20.5px"
        ax.axis_label_text_font_style = "normal"
        ax.axis_label_text_color = "#1a1a1a"
    p.xaxis.major_label_standoff = 1
    p.xaxis.axis_label_standoff = xlabel_gap
    p.yaxis.major_label_standoff = 4
    p.yaxis.axis_label_standoff = 2

    legend = Legend(items=[LegendItem(label="Best code", renderers=[r_line]),
                           LegendItem(label="Proposed code", renderers=[r_prop]),
                           LegendItem(label="Optimization", renderers=[r_opt])],
                    location="bottom_right")
    legend.label_text_font = FONT
    legend.label_text_font_size = "17px"
    legend.label_text_color = "#1a1a1a"
    legend.glyph_width = 36
    legend.glyph_height = 20
    legend.label_height = 20
    legend.label_standoff = 13
    legend.spacing = 5
    legend.padding = 5
    legend.margin = 9
    legend.border_line_color = "#cccccc"
    legend.border_line_width = 1
    legend.background_fill_color = "white"
    legend.background_fill_alpha = 0.8
    p.add_layout(legend)
    return p


# geometry: (width, height, border_left, border_right, border_top, border_bottom) in px
p1 = make_panel(P1_TITLE, P1_BEST_X, P1_BEST_Y, P1_PROP, P1_OPT, P1_YLIM, P1_YTICKS, "%.2f", (535, 298, 94, 37, 31, 53))
p2 = make_panel(P2_TITLE, P2_BEST_X, P2_BEST_Y, P2_PROP, P2_OPT, P2_YLIM, P2_YTICKS, "%.2f", (535, 298, 98, 34, 31, 53))
p3 = make_panel(P3_TITLE, P3_BEST_X, P3_BEST_Y, P3_PROP, P3_OPT, P3_YLIM, P3_YTICKS, "%.1f", (535, 302, 83, 37, 30, 57))
p4 = make_panel(P4_TITLE, P4_BEST_X, P4_BEST_Y, P4_PROP, P4_OPT, P4_YLIM, P4_YTICKS, "%.2f", (535, 302, 107, 25, 30, 57))
p5 = make_panel(P5_TITLE, P5_BEST_X, P5_BEST_Y, P5_PROP, P5_OPT, P5_YLIM, P5_YTICKS, "%.2f", (565, 308, 91, 70, 37, 57))
p6 = make_panel(P6_TITLE, P6_BEST_X, P6_BEST_Y, P6_PROP, P6_OPT, P6_YLIM, P6_YTICKS, "%.2f", (505, 308, 72, 30, 37, 57))
p7 = make_panel(P7_TITLE, P7_BEST_X, P7_BEST_Y, P7_PROP, P7_OPT, P7_YLIM, P7_YTICKS, "%.1f", (535, 308, 72, 48, 36, 57))
p8 = make_panel(P8_TITLE, P8_BEST_X, P8_BEST_Y, P8_PROP, P8_OPT, P8_YLIM, P8_YTICKS, "%.1f", (535, 308, 91, 30, 36, 57))
p9 = make_panel(P9_TITLE, P9_BEST_X, P9_BEST_Y, P9_PROP, P9_OPT, P9_YLIM, P9_YTICKS, "%.2f", (535, 297, 81, 50, 37, 49), 0)
p10 = make_panel(P10_TITLE, P10_BEST_X, P10_BEST_Y, P10_PROP, P10_OPT, P10_YLIM, P10_YTICKS, "%.2f", (535, 297, 101, 31, 37, 49), 0)

layout = column(row(p1, p2), row(p3, p4), row(p5, p6), row(p7, p8), row(p9, p10))

open("out.html", "w").write(file_html(layout, INLINE))
